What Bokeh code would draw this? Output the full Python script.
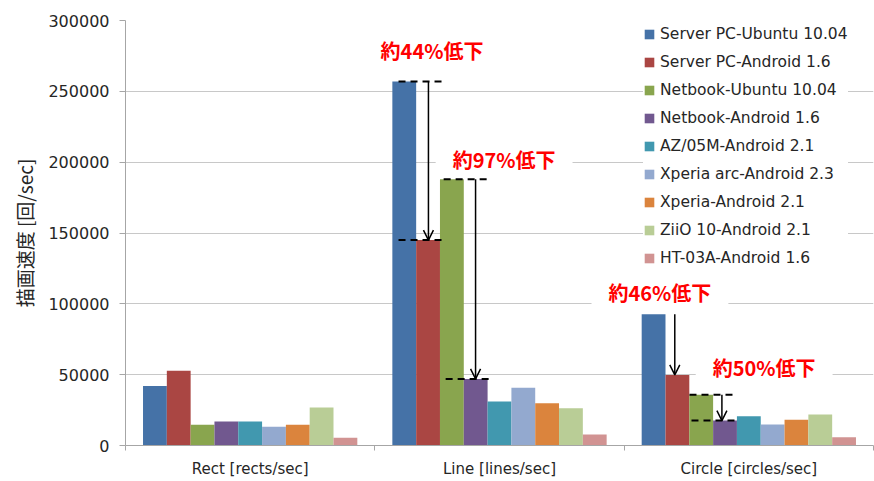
from bokeh.plotting import figure
from bokeh.models import (ColumnDataSource, Range1d, FixedTicker, Legend, LegendItem,
                          Label, Arrow, OpenHead, NumeralTickFormatter)
from bokeh.embed import file_html
from bokeh.resources import INLINE

# --- data -------------------------------------------------------------
categories = ["Rect [rects/sec]", "Line [lines/sec]", "Circle [circles/sec]"]
series_names = [
    "Server PC-Ubuntu 10.04",
    "Server PC-Android 1.6",
    "Netbook-Ubuntu 10.04",
    "Netbook-Android 1.6",
    "AZ/05M-Android 2.1",
    "Xperia arc-Android 2.3",
    "Xperia-Android 2.1",
    "ZiiO 10-Android 2.1",
    "HT-03A-Android 1.6",
]
server_pc_ubuntu = [42000, 257000, 92700]
server_pc_android = [52800, 145000, 49800]
netbook_ubuntu = [14600, 188000, 35900]
netbook_android = [16900, 47000, 17600]
az05m_android = [16900, 31000, 20600]
xperia_arc_android = [13200, 40800, 14800]
xperia_android = [14600, 29800, 18100]
ziio10_android = [26800, 26300, 21800]
ht03a_android = [5400, 7750, 5800]
series_values = [server_pc_ubuntu, server_pc_android, netbook_ubuntu, netbook_android,
                 az05m_android, xperia_arc_android, xperia_android, ziio10_android,
                 ht03a_android]
colors = ["#4572A7", "#AA4643", "#89A54E", "#71588F", "#4198AF",
          "#93A9CF", "#DB843D", "#B9CD96", "#D19392"]
y_ticks = [0, 50000, 100000, 150000, 200000, 250000, 300000]
drop_labels = ["約44%低下", "約97%低下", "約46%低下", "約50%低下"]

LATIN = "DejaVu Sans"
CJK = "Noto Sans CJK JP"

p = figure(frame_width=748, frame_height=425, output_backend="svg", toolbar_location=None,
           x_range=Range1d(0, len(categories)), y_range=Range1d(0, 300000),
           min_border_left=125, min_border_right=1, min_border_top=20,
           min_border_bottom=36)
p.outline_line_color = None
p.background_fill_color = "white"

# --- grouped bars -----------------------------------------------------
bw = 0.0955
n = len(series_names)
renderers = []
for i, (name, vals, col) in enumerate(zip(series_names, series_values, colors)):
    xs = [c + 0.5 + (i - (n - 1) / 2) * bw for c in range(len(categories))]
    src = ColumnDataSource(dict(x=xs, top=vals))
    r = p.vbar(x="x", top="top", width=bw, source=src, fill_color=col,
               line_color=None)
    renderers.append((name, r))

# --- axes -------------------------------------------------------------
p.xaxis.ticker = FixedTicker(ticks=[c + 0.5 for c in range(len(categories))],
                             minor_ticks=list(range(len(categories) + 1)))
p.xaxis.major_label_overrides = {c + 0.5: lab for c, lab in enumerate(categories)}
p.xaxis.major_tick_line_color = None
p.xaxis.major_tick_out = 0
p.xaxis.minor_tick_out = 5
p.xaxis.minor_tick_in = 0
p.xaxis.minor_tick_line_color = "#a6a6a6"
p.xaxis.axis_line_color = "#a6a6a6"
p.xaxis.major_label_standoff = 9
p.xaxis.major_label_text_font = LATIN
p.xaxis.major_label_text_font_size = "15px"
p.xaxis.major_label_text_color = "#262626"
p.xgrid.grid_line_color = None

p.yaxis.ticker = FixedTicker(ticks=y_ticks)
p.yaxis.formatter = NumeralTickFormatter(format="0")
p.yaxis.minor_tick_line_color = None
p.yaxis.major_tick_out = 6
p.yaxis.major_tick_in = 0
p.yaxis.major_tick_line_color = "#a6a6a6"
p.yaxis.axis_line_color = "#a6a6a6"
p.yaxis.major_label_standoff = 10
p.yaxis.major_label_text_font = LATIN
p.yaxis.major_label_text_font_size = "16px"
p.yaxis.major_label_text_color = "#262626"
p.yaxis.axis_label = "描画速度 [回/sec]"
p.yaxis.axis_label_text_font = CJK
p.yaxis.axis_label_text_font_size = "19px"
p.yaxis.axis_label_text_font_style = "normal"
p.yaxis.axis_label_text_color = "#262626"
p.yaxis.axis_label_standoff = 7
p.ygrid.grid_line_color = "#c8c8c8"
p.ygrid.grid_line_width = 1

# --- legend -----------------------------------------------------------
legend = Legend(items=[LegendItem(label=nm, renderers=[r]) for nm, r in renderers],
                location=(518, 177), orientation="vertical",
                background_fill_color="white", background_fill_alpha=1.0,
                border_line_color=None, padding=8, margin=0,
                glyph_width=12, glyph_height=12, label_standoff=5,
                label_height=20, spacing=8,
                label_text_font=LATIN, label_text_font_size="15.5px",
                label_text_color="#262626")
p.add_layout(legend)

# --- drop annotations -------------------------------------------------
dash = dict(line_color="black", line_width=2, line_dash="7 5")
# Line: Server PC Ubuntu -> Android
p.line([1.095, 1.272], [server_pc_ubuntu[1], server_pc_ubuntu[1]], **dash)
p.line([1.095, 1.272], [server_pc_android[1], server_pc_android[1]], **dash)
# Line: Netbook Ubuntu -> Android
p.line([1.276, 1.452], [netbook_ubuntu[1], netbook_ubuntu[1]], **dash)
p.line([1.284, 1.464], [netbook_android[1], netbook_android[1]], **dash)
# Circle: Netbook Ubuntu -> Android
p.line([2.262, 2.447], [netbook_ubuntu[2], netbook_ubuntu[2]], **dash)
p.line([2.270, 2.447], [netbook_android[2], netbook_android[2]], **dash)

arrows = [
    (1.215, server_pc_ubuntu[1], server_pc_android[1]),
    (1.404, netbook_ubuntu[1], netbook_android[1]),
    (2.203, server_pc_ubuntu[2], server_pc_android[2]),
    (2.392, netbook_ubuntu[2], netbook_android[2]),
]
for ax, y0, y1 in arrows:
    p.add_layout(Arrow(x_start=ax, y_start=y0, x_end=ax, y_end=y1,
                       line_color="black", line_width=1.5,
                       end=OpenHead(size=10, line_width=1.5, line_color="black")))

# label boxes: left edge of the white box, text sits 17px inside it
label_pos = [(0.955, 278500), (1.244, 202100), (1.869, 107700), (2.287, 54900)]
for (lx, ly), txt in zip(label_pos, drop_labels):
    p.add_layout(Label(x=lx, y=ly, text=txt, text_align="left",
                       text_baseline="middle", text_color="#FF0000",
                       text_font=CJK, text_font_size="20px",
                       text_font_style="bold",
                       background_fill_color="white", background_fill_alpha=1.0,
                       padding=(17, 3)))

open("out.html", "w").write(file_html(p, INLINE))
